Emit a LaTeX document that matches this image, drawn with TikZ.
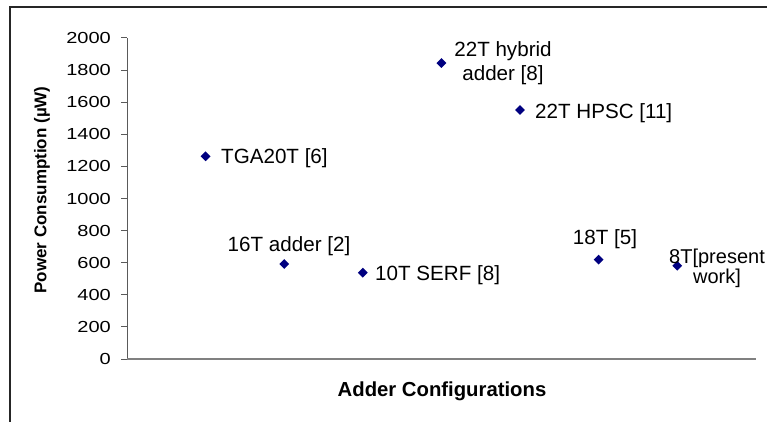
\documentclass[tikz,border=0pt]{standalone}
\usepackage{fontspec}
\setmainfont{Liberation Sans}
\newfontfamily\tickfont{Liberation Sans}[FakeStretch=1.25]
\usetikzlibrary{shapes.geometric}

\definecolor{marker}{HTML}{000080}
\definecolor{axisgray}{HTML}{808080}
\definecolor{axisdark}{HTML}{5A5A5A}
\definecolor{framecol}{HTML}{262626}

\begin{document}
\begin{tikzpicture}[x=1pt,y=-1pt,
  frameline/.style={draw=framecol,line width=1.4pt},
  yaxisline/.style={draw=axisdark,line width=1pt},
  xaxisline/.style={draw=axisgray,line width=2pt},
  ticklabel/.style={font=\tickfont\fontsize{16}{18}\selectfont,inner sep=0pt,anchor=east},
  datapoint/.style={diamond,fill=marker,inner sep=0pt,minimum size=10pt},
  datalabel/.style={font=\fontsize{20.6}{24}\selectfont,inner sep=0pt},
  axistitle/.style={font=\bfseries\fontsize{17}{20}\selectfont,inner sep=0pt}]

\useasboundingbox (0,0) rectangle (767,422);
\fill[white] (0,0) rectangle (767,422);

% chart area border (only left and top edges fall inside the page)
\coordinate (fbl) at (10,422);
\coordinate (ftl) at (10,7);
\coordinate (ftr) at (767,7);
\draw[frameline] (fbl) -- (ftl) -- (ftr);

% axes
\coordinate (origin) at (127,359);
\coordinate (ytop) at (127,38);
\coordinate (xend) at (756,359);
\draw[yaxisline] (origin) -- (ytop);
\foreach \v in {0,200,...,2000} {
  \pgfmathsetmacro\yy{359-0.1605*\v}
  \coordinate (tk\v) at (121,\yy);
  \coordinate (ta\v) at (127,\yy);
  \draw[yaxisline] (tk\v) -- (ta\v);
  \node[ticklabel] (tl\v) at (111,\yy) {\v};
}
\draw[xaxisline] (origin) -- (xend);

% axis titles
\node[axistitle,rotate=90] (ytitle) at (42,190) {Power Consumption (µW)};
\node[axistitle,font=\bfseries\fontsize{20.3}{22}\selectfont] (xtitle) at (442,391) {Adder Configurations};

% data points: category index / power in microwatts
\foreach \i/\v in {1/1263,2/592,3/538,4/1844,5/1551,6/619,7/581} {
  \pgfmathsetmacro\xx{127+78.6*\i}
  \pgfmathsetmacro\yy{359-0.1605*\v}
  \node[datapoint] (p\i) at (\xx,\yy) {};
}

% point labels
\node[datalabel,anchor=base west] (l1) at (221,164) {TGA20T [6]};
\node[datalabel,anchor=base] (l2) at (289,251.5) {16T adder [2]};
\node[datalabel,anchor=base west] (l3) at (375,280) {10T SERF [8]};
\node[datalabel,align=center] (l4) at (503,63) {22T hybrid\\adder [8]};
\node[datalabel,anchor=base west] (l5) at (535,119) {22T HPSC [11]};
\node[datalabel,anchor=base] (l6) at (605,244) {18T [5]};
\node[datalabel,align=center,font=\fontsize{20}{20}\selectfont] (l7) at (717,268.5) {8T[present\\work]};

\end{tikzpicture}
\end{document}
